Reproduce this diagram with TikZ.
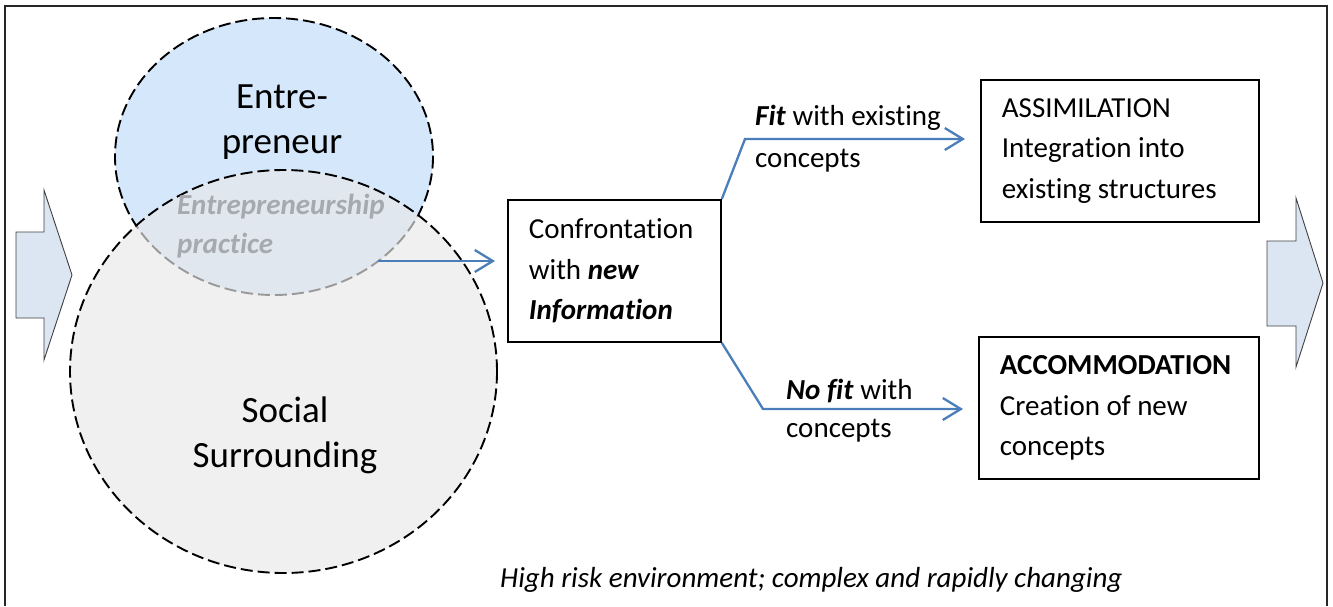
\documentclass[tikz,border=0pt]{standalone}
\usepackage{fontspec}
\setmainfont{Carlito}[Ligatures=NoCommon]
\usetikzlibrary{arrows.meta,calc}

\definecolor{entrefill}{HTML}{D5E7FB}
\definecolor{socialfill}{HTML}{F0F0F0}
\definecolor{lensfill}{HTML}{E1E7EF}
\definecolor{practicegray}{HTML}{A6A9AE}
\definecolor{flowblue}{HTML}{4A7EBB}
\definecolor{blockfill}{HTML}{DCE6F2}

\tikzset{
  circleline/.style={dash pattern=on 12pt off 5pt, line width=1.9pt},
  box/.style={draw=black, line width=1.8pt, rectangle, align=flush left, anchor=north west,
    inner xsep=21pt, inner ysep=0pt, font=\fontsize{29}{40.5}\selectfont},
  flow/.style={draw=flowblue, line width=2.3pt, -{Straight Barb[length=18pt,width=22pt]}},
  blockarrow/.style={fill=blockfill, draw=black!75, line width=0.9pt, line join=miter},
  label/.style={align=left, anchor=west, inner sep=0pt, font=\fontsize{29}{42}\selectfont},
  bigtext/.style={align=center, inner sep=0pt, font=\fontsize{37}{45}\selectfont}
}

\begin{document}
\begin{tikzpicture}[x=1pt,y=-1pt]
\useasboundingbox (0,0) rectangle (1333,606);

% outer frame (runs off the lower edge)
\draw[line width=2.2pt, black!85] (5,606) -- (5,6) -- (1327,6) -- (1327,606);

% input and output block arrows
\path[blockarrow] (16,232) -- (44,232) -- (44,190) -- (72,275) -- (44,360) -- (44,318) -- (16,318) -- cycle;
\path[blockarrow] (1267,241) -- (1296,241) -- (1296,198) -- (1323,283) -- (1296,367) -- (1296,326) -- (1267,326) -- cycle;

% entrepreneur ellipse and social surrounding circle
\path[fill=entrefill, draw=black, circleline] (274,156.5) ellipse [x radius=159, y radius=138.5];
\path[fill=socialfill] (283.5,371.5) ellipse [x radius=213.5, y radius=201.5];
\begin{scope}
  \clip (274,156.5) ellipse [x radius=159, y radius=138.5];
  \path[fill=lensfill] (283.5,371.5) ellipse [x radius=213.5, y radius=201.5];
\end{scope}
\begin{scope}
  \clip (283.5,371.5) ellipse [x radius=213.5, y radius=201.5];
  \draw[circleline, draw=black!40] (274,156.5) ellipse [x radius=159, y radius=138.5];
\end{scope}
\draw[circleline] (283.5,371.5) ellipse [x radius=213.5, y radius=201.5];

\node[bigtext] (entre) at (282,122) {Entre-\\preneur};
\node[bigtext] (social) at (285,435) {Social\\Surrounding};
\node[align=left, anchor=west, inner sep=0pt, text=practicegray,
      font=\fontsize{29}{39}\selectfont\bfseries\itshape] (practice) at (177,226)
      {Entrepreneurship\\practice};

% process boxes
\node[box, minimum width=213pt, minimum height=142pt, text width=171pt] (conf) at (507,199)
  {Confrontation\\with \textbf{\textit{new}}\\\textbf{\textit{Information}}};
\node[box, minimum width=278pt, minimum height=142pt, text width=236pt] (assim) at (980,79)
  {ASSIMILATION\\Integration into\\existing structures};
\node[box, minimum width=280pt, minimum height=142pt, text width=238pt] (accom) at (978,336)
  {\textbf{ACCOMMODATION}\\Creation of new\\concepts};

% connectors
\coordinate (pstart) at (378,261);
\coordinate (fitbend) at (745,139);
\coordinate (nofitbend) at (763,409);
\draw[flow, shorten >=12pt] (pstart) -- (pstart -| conf.west);
\draw[flow, shorten >=15pt] (conf.north east) -- (fitbend) -- (fitbend -| assim.west);
\draw[flow, shorten >=15pt] (conf.south east) -- (nofitbend) -- (nofitbend -| accom.west);

\node[label] (fitlabel) at (755,139) {\textbf{\textit{Fit}} with existing\\concepts};
\node[label, font=\fontsize{29}{38}\selectfont] (nofitlabel) at (786,411) {\textbf{\textit{No fit}} with\\concepts};

\node[anchor=west, inner sep=0pt, font=\fontsize{29}{35}\selectfont\itshape] (env) at (500,580)
  {High risk environment; complex and rapidly changing};
\end{tikzpicture}
\end{document}
